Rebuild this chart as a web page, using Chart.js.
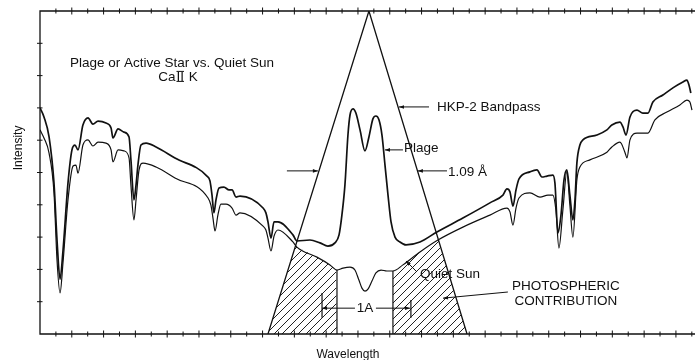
<!DOCTYPE html>
<html>
<head>
<meta charset="utf-8">
<script src="https://cdn.jsdelivr.net/npm/chart.js@4/dist/chart.umd.min.js"></script>
<style>
  html, body { margin: 0; padding: 0; background: #fff; }
  canvas { display: block; }
</style>
</head>
<body>
<canvas id="grafico" width="695" height="360"></canvas>
<script>
// wavelength in arbitrary units (one unit = one minor tick), intensity on a 0..10 scale
const plageWave = [0, 0.25, 0.57, 0.88, 1.07, 1.26, 1.45, 1.76, 2.01, 2.20, 2.39, 2.70, 3.02, 3.33, 3.65,
  4.15, 4.47, 4.59, 4.91, 5.28, 5.60, 5.72, 5.91, 6.04, 6.16, 6.35, 6.67, 7.30, 8.49, 10.50, 10.69,
  10.82, 10.94, 11.07, 11.26, 11.57, 11.89, 12.08, 12.33, 12.58, 14.03, 14.21, 14.34, 14.53, 14.72,
  14.97, 15.91, 16.16, 16.98, 17.61, 18.11, 18.55, 18.81, 18.99, 19.18, 19.37, 19.50, 19.69, 19.87,
  20.13, 20.44, 20.69, 20.94, 21.13, 21.32, 21.51, 21.70, 21.89, 22.08, 22.33, 22.64, 23.02, 23.90,
  24.97, 26.60, 28.30, 29.12, 29.37, 29.56, 29.75, 29.94, 30.13, 30.82, 31.26, 31.57, 31.89, 32.26,
  32.39, 32.58, 32.77, 32.96, 33.14, 33.33, 33.52, 33.65, 33.77, 33.96, 34.15, 35.03, 35.66, 35.97,
  36.48, 36.67, 36.86, 37.11, 37.55, 37.92, 38.24, 38.55, 39.18, 39.81, 40.44, 40.69, 40.82, 40.94];
const plageIntensity = [7.00, 6.72, 6.10, 4.67, 2.91, 1.70, 2.60, 4.67, 5.70, 5.85, 5.70, 6.47, 6.69, 6.50, 6.59,
  6.53, 6.38, 6.07, 6.35, 6.25, 6.10, 5.39, 4.15, 4.61, 5.23, 5.85, 5.91, 5.79, 5.45, 4.89, 4.74,
  4.30, 3.75, 4.15, 4.52, 4.55, 4.46, 4.46, 4.24, 4.27, 3.90, 3.75, 3.47, 2.97, 3.47,
  3.47, 3.07, 2.88, 2.91, 2.82, 2.72, 2.82, 3.07, 3.68, 4.61, 6.16, 6.78, 6.97, 6.84,
  6.32, 5.67, 6.10, 6.66, 6.75, 6.63, 6.16, 5.23, 4.30, 3.47, 3.00, 2.85, 2.76, 2.85,
  3.16, 3.59, 4.06, 4.30, 4.49, 4.40, 3.96, 4.46, 4.80, 5.02, 5.08, 4.86, 4.89, 4.92,
  4.67, 3.13, 3.68, 4.77, 5.08, 4.30, 3.53, 4.15, 5.29, 5.85, 6.01, 6.16, 6.32, 6.47,
  6.56, 6.41, 6.16, 6.72, 6.93, 6.84, 6.84, 7.18, 7.40, 7.62, 7.80, 7.86, 7.71, 7.46];

const quietWave = [0, 0.25, 0.57, 0.88, 1.07, 1.26, 1.45, 1.76, 2.08, 2.26, 2.39, 2.70, 3.02, 3.33, 3.65,
  4.15, 4.47, 4.59, 4.91, 5.28, 5.60, 5.72, 5.91, 6.04, 6.23, 6.48, 7.30, 8.49, 10.57, 10.75,
  10.88, 11.01, 11.19, 11.38, 11.70, 12.08, 12.33, 12.58, 14.03, 14.21, 14.34, 14.53, 14.72, 14.97,
  15.91, 16.16, 17.42, 18.24, 18.68, 19.06, 19.50, 19.81, 20.06, 20.25, 20.44, 20.63, 20.88, 21.13,
  21.45, 21.82, 22.20, 22.83, 23.90, 25.03, 26.60, 28.30, 29.37, 29.56, 29.75, 29.94, 30.13, 30.82,
  31.45, 31.95, 32.26, 32.45, 32.64, 32.89, 33.14, 33.33, 33.52, 33.77, 33.96, 34.59, 35.66, 35.97,
  36.48, 36.79, 36.92, 37.11, 37.55, 38.24, 38.68, 39.43, 40.25, 40.69, 40.88, 41.01];
const quietIntensity = [6.32, 6.07, 5.60, 4.37, 2.29, 1.27, 2.23, 4.15, 5.20, 5.23, 4.98, 5.85, 6.01, 5.82, 5.94,
  5.91, 5.70, 5.33, 5.70, 5.67, 5.45, 4.61, 3.53, 4.15, 5.08, 5.29, 5.17, 4.83, 4.21, 3.99,
  3.59, 3.19, 3.68, 4.02, 4.02, 3.90, 3.68, 3.75, 3.34, 3.22, 2.97, 2.57, 3.03, 3.22,
  2.85, 2.69, 2.38, 2.14, 1.98, 2.04, 2.07, 1.98, 1.67, 1.42, 1.33, 1.39, 1.64, 1.89,
  1.98, 1.95, 1.95, 2.14, 2.54, 2.91, 3.31, 3.68, 3.90, 3.78, 3.37, 3.90, 4.21, 4.37,
  4.24, 4.30, 4.30, 3.84, 2.66, 3.84, 5.02, 3.99, 3.00, 4.77, 5.17, 5.39, 5.63, 5.79,
  5.94, 5.63, 5.45, 6.01, 6.22, 6.22, 6.63, 6.87, 7.09, 7.24, 7.18, 6.93];

const bandpassWave = [14.34, 20.69, 26.86];
const bandpassIntensity = [0, 10, 0];

// inner edges of the two hatched photospheric parts
const windowEdges = [18.68, 22.20];

const notes = [
  { text: 'Plage or Active Star vs. Quiet Sun', x: 8.30, y: 8.39, align: 'center' },
  { text: 'HKP-2 Bandpass', x: 24.97, y: 7.03, align: 'left' },
  { text: 'Plage', x: 22.89, y: 5.76, align: 'left' },
  { text: '1.09 \u00C5', x: 25.66, y: 5.02, align: 'left' },
  { text: 'Quiet Sun', x: 23.90, y: 1.86, align: 'left' },
  { text: 'PHOTOSPHERIC', x: 33.08, y: 1.49, align: 'center' },
  { text: 'CONTRIBUTION', x: 33.08, y: 1.02, align: 'center' },
  { text: '1A', x: 20.44, y: 0.80, align: 'center' }
];
const arrows = [
  [24.47, 7.03, 22.58, 7.03],
  [22.83, 5.70, 21.70, 5.70],
  [25.60, 5.05, 23.77, 5.05],
  [15.53, 5.05, 17.48, 5.05],
  [23.71, 1.92, 23.02, 2.26],
  [29.43, 1.30, 25.35, 1.11],
  [19.81, 0.80, 17.74, 0.80],
  [21.13, 0.80, 23.27, 0.80]
];
const bars = [[17.74, 0.50, 1.27], [23.33, 0.50, 1.05]];

function interp(xs, ys, x) {
  for (let i = 1; i < xs.length; i++) {
    if (x <= xs[i]) {
      const t = (x - xs[i - 1]) / (xs[i] - xs[i - 1]);
      return ys[i - 1] + t * (ys[i] - ys[i - 1]);
    }
  }
  return ys[ys.length - 1];
}

// hatched region: under both the quiet sun curve and the bandpass triangle
function hatchRegion(from, to, closeAtEnd) {
  const pts = [];
  if (!closeAtEnd) pts.push({ x: from, y: 0 });
  for (let x = from; x <= to + 1e-9; x += 0.04) {
    const q = interp(quietWave, quietIntensity, x);
    const b = interp(bandpassWave, bandpassIntensity, x);
    pts.push({ x: x, y: Math.min(q, b) });
  }
  if (closeAtEnd) pts.push({ x: to, y: 0 });
  return pts;
}

function pairs(xs, ys) {
  return xs.map((v, i) => ({ x: v, y: ys[i] }));
}

const tile = document.createElement('canvas');
tile.width = 8; tile.height = 8;
const tc = tile.getContext('2d');
tc.strokeStyle = '#222';
tc.lineWidth = 1;
tc.beginPath();
tc.moveTo(0, 8); tc.lineTo(8, 0);
tc.moveTo(-2, 2); tc.lineTo(2, -2);
tc.moveTo(6, 10); tc.lineTo(10, 6);
tc.stroke();
const hatch = tc.createPattern(tile, 'repeat');

const edgeLine = (x) => [{ x: x, y: 0 }, { x: x, y: interp(quietWave, quietIntensity, x) }];

const frame = {
  id: 'frame',
  beforeDraw(chart) {
    const ctx = chart.ctx;
    ctx.save();
    ctx.fillStyle = '#fff';
    ctx.fillRect(0, 0, chart.width, chart.height);
    ctx.restore();
  },
  afterDatasetsDraw(chart) {
    const { ctx, chartArea: a, scales: { x, y } } = chart;
    ctx.save();
    ctx.strokeStyle = '#111';
    ctx.fillStyle = '#111';
    ctx.lineWidth = 1.3;
    ctx.beginPath();
    ctx.moveTo(a.right, a.top); ctx.lineTo(a.left, a.top);
    ctx.lineTo(a.left, a.bottom); ctx.lineTo(a.right, a.bottom);
    ctx.stroke();

    ctx.lineWidth = 1;
    ctx.beginPath();
    for (let k = 1; k <= Math.floor(x.max); k++) {
      const px = x.getPixelForValue(k);
      const h = k % 2 === 0 ? 3.5 : 2.5;
      ctx.moveTo(px, a.top - h); ctx.lineTo(px, a.top + h);
      ctx.moveTo(px, a.bottom - h); ctx.lineTo(px, a.bottom + h);
    }
    for (let k = 1; k < y.max; k++) {
      const py = y.getPixelForValue(k);
      ctx.moveTo(a.left - 3, py); ctx.lineTo(a.left + 2.5, py);
    }
    ctx.stroke();

    // arrows
    arrows.forEach(([x0, y0, x1, y1]) => {
      const ax = x.getPixelForValue(x0), ay = y.getPixelForValue(y0);
      const bx = x.getPixelForValue(x1), by = y.getPixelForValue(y1);
      ctx.beginPath();
      ctx.moveTo(ax, ay); ctx.lineTo(bx, by);
      ctx.stroke();
      const ang = Math.atan2(by - ay, bx - ax);
      ctx.beginPath();
      ctx.moveTo(bx, by);
      ctx.lineTo(bx - 5 * Math.cos(ang) + 1.8 * Math.sin(ang), by - 5 * Math.sin(ang) - 1.8 * Math.cos(ang));
      ctx.lineTo(bx - 5 * Math.cos(ang) - 1.8 * Math.sin(ang), by - 5 * Math.sin(ang) + 1.8 * Math.cos(ang));
      ctx.closePath();
      ctx.fill();
    });
    ctx.lineWidth = 1.2;
    bars.forEach(([bx, b0, b1]) => {
      const px = x.getPixelForValue(bx);
      ctx.beginPath();
      ctx.moveTo(px, y.getPixelForValue(b0)); ctx.lineTo(px, y.getPixelForValue(b1));
      ctx.stroke();
    });

    ctx.font = '13.5px "Liberation Sans", Arial, sans-serif';
    ctx.textBaseline = 'middle';
    notes.forEach(n => {
      ctx.textAlign = n.align;
      ctx.fillText(n.text, x.getPixelForValue(n.x), y.getPixelForValue(n.y));
    });

    // "Ca II K" with the roman numeral drawn with bars
    const cx = x.getPixelForValue(8.68), cy = y.getPixelForValue(7.96);
    const wCa = ctx.measureText('Ca').width, wII = ctx.measureText('II').width, wK = ctx.measureText(' K').width;
    let sx = cx - (wCa + wII + 2 + wK) / 2;
    ctx.textAlign = 'left';
    ctx.fillText('Ca', sx, cy);
    sx += wCa + 1;
    ctx.fillText('II', sx, cy);
    ctx.lineWidth = 1;
    ctx.beginPath();
    ctx.moveTo(sx, cy - 5.5); ctx.lineTo(sx + wII, cy - 5.5);
    ctx.moveTo(sx, cy + 4.5); ctx.lineTo(sx + wII, cy + 4.5);
    ctx.stroke();
    ctx.fillText(' K', sx + wII + 1, cy);

    ctx.font = '12px "Liberation Sans", Arial, sans-serif';
    ctx.textAlign = 'center';
    ctx.fillText('Wavelength', x.getPixelForValue(19.37), a.bottom + 21);
    ctx.translate(a.left - 21, y.getPixelForValue(5.76));
    ctx.rotate(-Math.PI / 2);
    ctx.fillText('Intensity', 0, 0);
    ctx.restore();
  }
};

const lineStyle = { borderColor: '#111', pointRadius: 0, fill: false };

new Chart(document.getElementById('grafico'), {
  type: 'line',
  data: {
    datasets: [
      Object.assign({ label: 'Plage', data: pairs(plageWave, plageIntensity), borderWidth: 1.7, cubicInterpolationMode: 'monotone' }, lineStyle),
      Object.assign({ label: 'Quiet Sun', data: pairs(quietWave, quietIntensity), borderWidth: 1.2, cubicInterpolationMode: 'monotone' }, lineStyle),
      Object.assign({ label: 'HKP-2 Bandpass', data: pairs(bandpassWave, bandpassIntensity), borderWidth: 1.3, tension: 0 }, lineStyle),
      Object.assign({ label: 'edge1', data: edgeLine(windowEdges[0]), borderWidth: 1.2 }, lineStyle),
      Object.assign({ label: 'edge2', data: edgeLine(windowEdges[1]), borderWidth: 1.2 }, lineStyle),
      { label: 'Photospheric left', data: hatchRegion(bandpassWave[0], windowEdges[0], true), borderWidth: 0, pointRadius: 0, fill: 'origin', backgroundColor: hatch, order: 5 },
      { label: 'Photospheric right', data: hatchRegion(windowEdges[1], bandpassWave[2], false), borderWidth: 0, pointRadius: 0, fill: 'origin', backgroundColor: hatch, order: 5 }
    ]
  },
  options: {
    responsive: false,
    animation: false,
    devicePixelRatio: 1,
    layout: { padding: { left: 40, top: 11, right: 0, bottom: 26 } },
    plugins: { legend: { display: false }, tooltip: { enabled: false } },
    scales: {
      x: { type: 'linear', min: 0, max: 41.2, display: false },
      y: { type: 'linear', min: 0, max: 10, display: false }
    }
  },
  plugins: [frame]
});
</script>
</body>
</html>
